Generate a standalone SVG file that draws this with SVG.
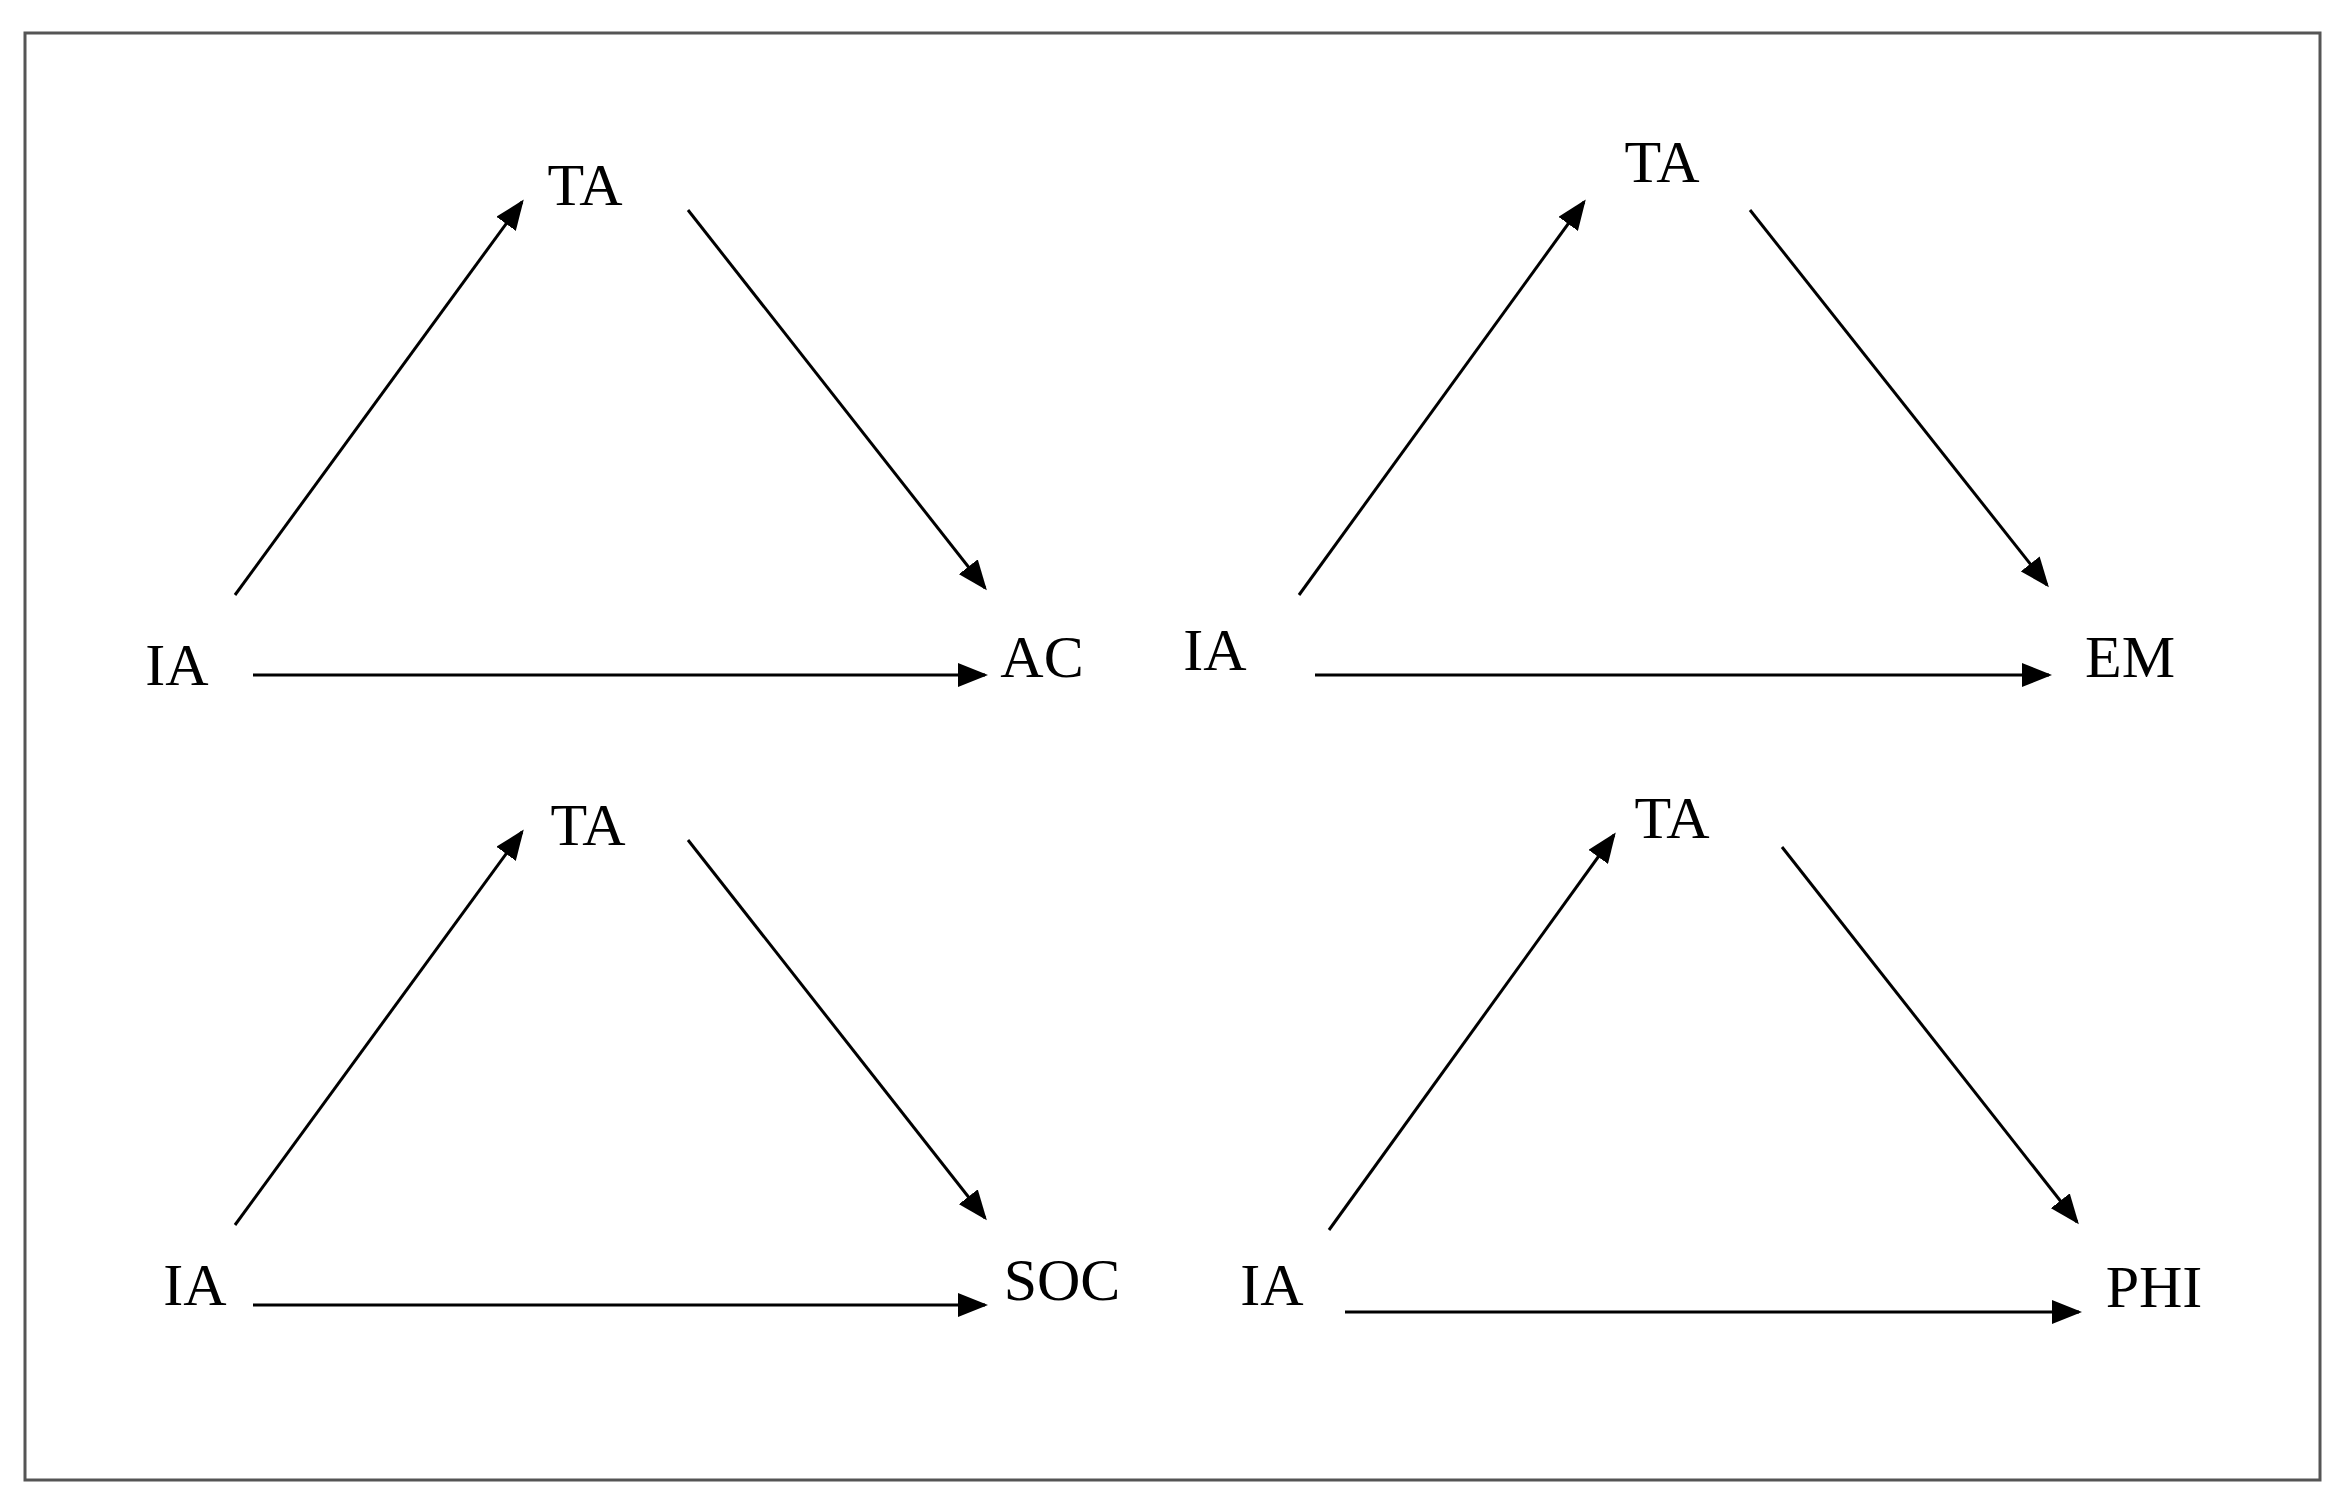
<svg xmlns="http://www.w3.org/2000/svg" width="2338" height="1508" viewBox="0 0 2338 1508">
<style>
text{font-family:"Liberation Serif","Times New Roman",serif;font-size:60px;fill:#000;text-anchor:middle}
line{stroke:#000;stroke-width:3;marker-end:url(#ah)}
</style>
<defs><marker id="ah" markerWidth="10" markerHeight="8" refX="9" refY="4" orient="auto" markerUnits="strokeWidth"><path d="M0,0L10,4L0,8z" fill="#000"/></marker></defs>
<rect x="25" y="33" width="2295" height="1447" fill="#fff" stroke="#555" stroke-width="3"/>
<g id="connectors">
<line x1="235" y1="595" x2="522" y2="202"/>
<line x1="688" y1="210" x2="985" y2="588"/>
<line x1="253" y1="675" x2="985" y2="675"/>
<line x1="1299" y1="595" x2="1584" y2="202"/>
<line x1="1750" y1="210" x2="2047" y2="585"/>
<line x1="1315" y1="675" x2="2049" y2="675"/>
<line x1="235" y1="1225" x2="522" y2="832"/>
<line x1="688" y1="840" x2="985" y2="1218"/>
<line x1="253" y1="1305" x2="985" y2="1305"/>
<line x1="1329" y1="1230" x2="1614" y2="835"/>
<line x1="1782" y1="847" x2="2077" y2="1222"/>
<line x1="1345" y1="1312" x2="2079" y2="1312"/>
</g>
<g id="ta1"><text x="585" y="205">TA</text></g>
<g id="ia1"><text x="177" y="685">IA</text></g>
<g id="ac"><text x="1042" y="677">AC</text></g>
<g id="ta2"><text x="1662" y="182">TA</text></g>
<g id="ia2"><text x="1215" y="670">IA</text></g>
<g id="em"><text x="2130" y="677">EM</text></g>
<g id="ta3"><text x="588" y="845">TA</text></g>
<g id="ia3"><text x="195" y="1305">IA</text></g>
<g id="soc"><text x="1062" y="1300">SOC</text></g>
<g id="ta4"><text x="1672" y="838">TA</text></g>
<g id="ia4"><text x="1272" y="1305">IA</text></g>
<g id="phi"><text x="2154" y="1307">PHI</text></g>
</svg>
